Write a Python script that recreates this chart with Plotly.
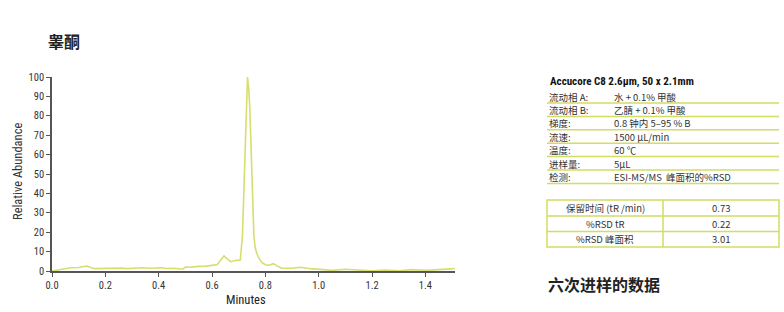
import plotly.graph_objects as go

# ---------------- data ----------------
times = [0.00, 0.02, 0.04, 0.07, 0.10, 0.12, 0.13, 0.16, 0.20, 0.23, 0.26, 0.28, 0.30,
         0.33, 0.34, 0.37, 0.40, 0.41, 0.43, 0.46, 0.49, 0.50, 0.52, 0.55, 0.58, 0.60,
         0.62, 0.635, 0.645, 0.655, 0.67, 0.69, 0.706, 0.710, 0.714, 0.718, 0.722,
         0.726, 0.729, 0.733, 0.737, 0.741, 0.745, 0.750, 0.754, 0.757, 0.762, 0.768,
         0.775, 0.783, 0.791, 0.80, 0.815, 0.83, 0.845, 0.86, 0.90, 0.93, 0.97, 1.00,
         1.05, 1.10, 1.15, 1.20, 1.25, 1.30, 1.35, 1.40, 1.45, 1.50, 1.51]
abundance = [0.0, 0.5, 1.0, 1.7, 1.8, 2.6, 2.6, 1.2, 1.4, 1.3, 1.5, 1.2, 1.4,
             1.4, 1.7, 1.4, 1.4, 1.7, 1.3, 1.4, 0.9, 2.0, 1.9, 2.4, 2.5, 2.9,
             3.3, 6.0, 7.8, 6.5, 4.8, 5.5, 5.7, 12.0, 18.0, 35.0, 52.0,
             72.0, 86.0, 100.0, 95.0, 86.0, 70.0, 52.0, 30.0, 18.0, 12.0, 9.0,
             7.0, 5.0, 4.0, 3.2, 3.0, 3.8, 2.5, 1.5, 1.4, 1.9, 1.2, 0.9,
             0.3, 0.9, 0.5, 0.1, 0.5, 0.1, 0.7, 0.4, 0.7, 1.2, 1.2]

x_tick_vals = [0.0, 0.2, 0.4, 0.6, 0.8, 1.0, 1.2, 1.4]
x_tick_text = ["0.0", "0.2", "0.4", "0.6", "0.8", "1.0", "1.2", "1.4"]
y_tick_vals = [0, 10, 20, 30, 40, 50, 60, 70, 80, 90, 100]

chart_title = "睾酮"
column_title = "Accucore C8 2.6µm, 50 x 2.1mm"
param_labels = ["流动相 A:", "流动相 B:", "梯度:", "流速:", "温度:", "进样量:", "检测:"]
param_values = ["水 + 0.1% 甲酸", "乙腈 + 0.1% 甲酸", "0.8 钟内 5–95 % B",
                "1500 µL/min", "60 ℃", "5µL", "ESI-MS/MS  峰面积的%RSD"]
result_labels = ["保留时间 (tR /min)", "%RSD tR", "%RSD 峰面积"]
result_values = ["0.73", "0.22", "3.01"]
footer = "六次进样的数据"

# ---------------- layout helpers ----------------
W, H = 784, 312
L, R, T, B = 52, 455, 77, 271
PW, PH = R - L, B - T

def px(x):
    return (x - L) / PW

def py(y):
    return 1 - (y - T) / PH

LIME = "#d3dd62"
TRACE = "#d6df6e"
NARROW = "Liberation Sans Narrow, Arial Narrow, Roboto Condensed, Liberation Sans, Noto Sans CJK SC"
CJK = "Liberation Sans Narrow, Noto Sans CJK SC, sans-serif"

fig = go.Figure()
fig.add_trace(go.Scatter(x=times, y=abundance, mode="lines",
                         line=dict(color=TRACE, width=1.6), hoverinfo="skip",
                         showlegend=False, cliponaxis=False))

annotations = []
shapes = []

# chart title
annotations.append(dict(x=px(46), y=py(41), xref="paper", yref="paper", text="<b>" + chart_title + "</b>",
                        showarrow=False, xanchor="left", yanchor="middle",
                        font=dict(family="Noto Sans CJK SC", size=16, color="#222")))
# axis titles
annotations.append(dict(x=px(17), y=py(172), xref="paper", yref="paper", text="Relative Abundance",
                        showarrow=False, textangle=-90, xanchor="center", yanchor="middle",
                        font=dict(family=NARROW, size=12.5, color="#333")))
annotations.append(dict(x=px(246), y=py(299), xref="paper", yref="paper", text="Minutes",
                        showarrow=False, xanchor="center", yanchor="middle",
                        font=dict(family=NARROW, size=12.5, color="#222")))

# right panel: column title
annotations.append(dict(x=px(548), y=py(81), xref="paper", yref="paper", text="<b>" + column_title + "</b>",
                        showarrow=False, xanchor="left", yanchor="middle",
                        font=dict(family=NARROW, size=11, color="#111")))

row0, step = 96.5, 13.4
for i, (lab, val) in enumerate(zip(param_labels, param_values)):
    yc = row0 + i * step
    annotations.append(dict(x=px(547), y=py(yc), xref="paper", yref="paper", text=lab,
                            showarrow=False, xanchor="left", yanchor="middle",
                            font=dict(family=CJK, size=9.5, color="#333")))
    annotations.append(dict(x=px(612), y=py(yc), xref="paper", yref="paper", text=val,
                            showarrow=False, xanchor="left", yanchor="middle",
                            font=dict(family=CJK, size=9.5, color="#333")))
    ly = yc + 6.5
    shapes.append(dict(type="line", xref="paper", yref="paper", x0=px(547), x1=px(779),
                       y0=py(ly), y1=py(ly), line=dict(color=LIME, width=1.5)))

# results table
edges = [200, 216, 231.5, 247]
shapes.append(dict(type="rect", xref="paper", yref="paper", x0=px(547), x1=px(779),
                   y0=py(edges[0]), y1=py(edges[-1]), line=dict(color=LIME, width=1.5)))
shapes.append(dict(type="line", xref="paper", yref="paper", x0=px(663), x1=px(663),
                   y0=py(edges[0]), y1=py(edges[-1]), line=dict(color=LIME, width=1.5)))
for e in edges[1:-1]:
    shapes.append(dict(type="line", xref="paper", yref="paper", x0=px(547), x1=px(779),
                       y0=py(e), y1=py(e), line=dict(color=LIME, width=1.5)))
for i, (lab, val) in enumerate(zip(result_labels, result_values)):
    yc = (edges[i] + edges[i + 1]) / 2
    annotations.append(dict(x=px(605), y=py(yc), xref="paper", yref="paper", text=lab,
                            showarrow=False, xanchor="center", yanchor="middle",
                            font=dict(family=CJK, size=9.5, color="#333")))
    annotations.append(dict(x=px(721), y=py(yc), xref="paper", yref="paper", text=val,
                            showarrow=False, xanchor="center", yanchor="middle",
                            font=dict(family=CJK, size=9.5, color="#333")))

annotations.append(dict(x=px(546), y=py(284), xref="paper", yref="paper", text="<b>" + footer + "</b>",
                        showarrow=False, xanchor="left", yanchor="middle",
                        font=dict(family="Noto Sans CJK SC", size=16, color="#222")))

fig.update_layout(
    width=W, height=H,
    margin=dict(l=L, r=W - R, t=T, b=H - B, pad=0),
    paper_bgcolor="white", plot_bgcolor="white",
    showlegend=False,
    annotations=annotations, shapes=shapes,
    xaxis=dict(range=[0, 1.511], tickvals=x_tick_vals, ticktext=x_tick_text,
               showline=True, linecolor="#555", linewidth=1.5, ticks="outside", ticklen=4,
               tickcolor="#555", tickwidth=1, showgrid=False, zeroline=False,
               tickfont=dict(family=NARROW, size=10.5, color="#333")),
    yaxis=dict(range=[0, 100], tickvals=y_tick_vals,
               showline=True, linecolor="#555", linewidth=1.5, ticks="outside", ticklen=4,
               tickcolor="#555", tickwidth=1, showgrid=False, zeroline=False,
               tickfont=dict(family=NARROW, size=10.5, color="#333")),
)

fig.write_html("out.html")
